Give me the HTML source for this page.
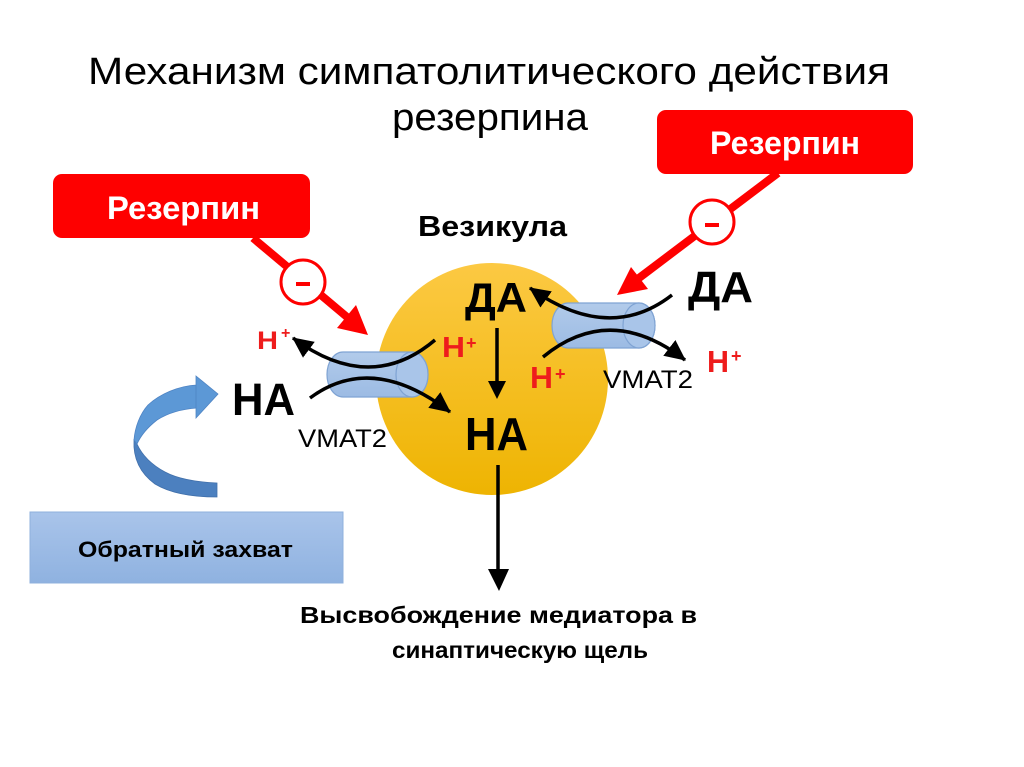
<!DOCTYPE html>
<html>
<head>
<meta charset="utf-8">
<style>
html,body{margin:0;padding:0;background:#fff;}
svg{display:block;}
text{font-family:"Liberation Sans","DejaVu Sans",sans-serif;}
</style>
</head>
<body>
<svg width="1024" height="767" viewBox="0 0 1024 767" xmlns="http://www.w3.org/2000/svg">
<defs>
  <linearGradient id="ves" x1="0" y1="0" x2="0" y2="1">
    <stop offset="0" stop-color="#fcc943"/>
    <stop offset="1" stop-color="#eeb402"/>
  </linearGradient>
  <linearGradient id="box" x1="0" y1="0" x2="0" y2="1">
    <stop offset="0" stop-color="#a9c4ea"/>
    <stop offset="1" stop-color="#8fb2e0"/>
  </linearGradient>
  <linearGradient id="cyl" x1="0" y1="0" x2="0" y2="1">
    <stop offset="0" stop-color="#b2cbea"/>
    <stop offset="1" stop-color="#9cbbe4"/>
  </linearGradient>
  <marker id="ah" markerUnits="userSpaceOnUse" markerWidth="22" markerHeight="20" refX="18" refY="9" orient="auto" viewBox="0 0 20 18">
    <path d="M0,0 L19,9 L0,18 Z" fill="#000"/>
  </marker>
</defs>

<!-- Title -->
<text x="88" y="84" font-size="38" textLength="802" lengthAdjust="spacingAndGlyphs" fill="#000">Механизм симпатолитического действия</text>
<text x="392" y="130" font-size="38" textLength="196" lengthAdjust="spacingAndGlyphs" fill="#000">резерпина</text>

<!-- Red boxes -->
<rect x="53" y="174" width="257" height="64" rx="9" fill="#fe0000"/>
<text x="107" y="219" font-size="32" font-weight="bold" fill="#fff" textLength="153" lengthAdjust="spacingAndGlyphs">Резерпин</text>
<rect x="657" y="110" width="256" height="64" rx="9" fill="#fe0000"/>
<text x="710" y="154" font-size="32" font-weight="bold" fill="#fff" textLength="150" lengthAdjust="spacingAndGlyphs">Резерпин</text>

<!-- Vesicle -->
<circle cx="492" cy="379" r="116" fill="url(#ves)"/>
<text x="418" y="236" font-size="29" font-weight="bold" fill="#000" textLength="149" lengthAdjust="spacingAndGlyphs">Везикула</text>

<!-- Left red inhibitor arrow -->
<line x1="253" y1="238" x2="347" y2="317" stroke="#fe0000" stroke-width="8"/>
<polygon points="368,335 337,328 356,305" fill="#fe0000"/>
<circle cx="303" cy="282" r="22" fill="#fff" stroke="#fe0000" stroke-width="3"/>
<rect x="296" y="282" width="14" height="4" fill="#fe0000"/>

<!-- Right red inhibitor arrow -->
<line x1="778" y1="173" x2="639" y2="278" stroke="#fe0000" stroke-width="8"/>
<polygon points="617,295 631,267 648,289" fill="#fe0000"/>
<circle cx="712" cy="222" r="22" fill="#fff" stroke="#fe0000" stroke-width="3"/>
<rect x="705" y="223" width="14" height="4" fill="#fe0000"/>

<!-- Left cylinder -->
<path d="M343,352 L412,352 A16,22.5 0 0 1 412,397 L343,397 A16,22.5 0 0 1 343,352 Z" fill="url(#cyl)" stroke="#7fa3d3" stroke-width="1.2"/>
<ellipse cx="412" cy="374.5" rx="16" ry="22.5" fill="#a9c5e9" stroke="#7fa3d3" stroke-width="1.2"/>

<!-- Right cylinder -->
<path d="M568,303 L639,303 A16,22.5 0 0 1 639,348 L568,348 A16,22.5 0 0 1 568,303 Z" fill="url(#cyl)" stroke="#7fa3d3" stroke-width="1.2"/>
<ellipse cx="639" cy="325.5" rx="16" ry="22.5" fill="#a9c5e9" stroke="#7fa3d3" stroke-width="1.2"/>

<!-- Left curves -->
<path d="M435,340 Q370,395 293,338" fill="none" stroke="#000" stroke-width="3.5" marker-end="url(#ah)"/>
<path d="M310,398 Q372,352 450,412" fill="none" stroke="#000" stroke-width="3.5" marker-end="url(#ah)"/>

<!-- Right curves -->
<path d="M672,295 Q609,344 530,288" fill="none" stroke="#000" stroke-width="3.5" marker-end="url(#ah)"/>
<path d="M543,357 Q610,302 685,360" fill="none" stroke="#000" stroke-width="3.5" marker-end="url(#ah)"/>

<!-- Inner vertical arrow ДА -> НА -->
<line x1="497" y1="328" x2="497" y2="384" stroke="#000" stroke-width="3.5"/>
<polygon points="488,381 506,381 497,399" fill="#000"/>

<!-- Release arrow -->
<line x1="498" y1="465" x2="498" y2="572" stroke="#000" stroke-width="3.5"/>
<polygon points="488,569 509,569 499,591" fill="#000"/>

<!-- Labels in vesicle -->
<text x="465" y="312" font-size="42" font-weight="bold" fill="#000" textLength="62" lengthAdjust="spacingAndGlyphs">ДА</text>
<text x="465" y="450" font-size="46" font-weight="bold" fill="#000" textLength="63" lengthAdjust="spacingAndGlyphs">НА</text>
<text x="442" y="357" font-size="29" font-weight="bold" fill="#ee1c1c" textLength="23" lengthAdjust="spacingAndGlyphs">H</text>
<text x="466" y="349" font-size="18" font-weight="bold" fill="#ee1c1c">+</text>
<text x="530" y="388" font-size="31" font-weight="bold" fill="#ee1c1c" textLength="23" lengthAdjust="spacingAndGlyphs">H</text>
<text x="555" y="380" font-size="18" font-weight="bold" fill="#ee1c1c">+</text>

<!-- Outside labels left -->
<text x="257" y="349" font-size="25" font-weight="bold" fill="#ee1c1c" textLength="21" lengthAdjust="spacingAndGlyphs">H</text>
<text x="281" y="338" font-size="16" font-weight="bold" fill="#ee1c1c">+</text>
<text x="232" y="415" font-size="45" font-weight="bold" fill="#000" textLength="63" lengthAdjust="spacingAndGlyphs">НА</text>
<text x="298" y="447" font-size="25" fill="#000" textLength="89" lengthAdjust="spacingAndGlyphs">VMAT2</text>

<!-- Outside labels right -->
<text x="688" y="302" font-size="44" font-weight="bold" fill="#000" textLength="65" lengthAdjust="spacingAndGlyphs">ДА</text>
<text x="707" y="372" font-size="31" font-weight="bold" fill="#ee1c1c" textLength="22" lengthAdjust="spacingAndGlyphs">H</text>
<text x="731" y="362" font-size="18" font-weight="bold" fill="#ee1c1c">+</text>
<text x="603" y="388" font-size="25" fill="#000" textLength="90" lengthAdjust="spacingAndGlyphs">VMAT2</text>

<!-- Blue curved arrow -->
<path d="M134,440 C133,458 140,473 155,484 C170,493 190,497 217,497 L217,483 C195,482 178,479 165,472 C152,465 142,455 137,444 Z" fill="#4c80bf" stroke="#4170ab" stroke-width="0.8"/>
<path d="M197,385 C178,386 160,394 148,405 C140,414 135,427 134,440 L137,444 C141,435 148,427 157,420 C168,413 182,409 197,408 Z" fill="#5c98d6" stroke="#4f84c4" stroke-width="0.8"/>
<polygon points="196,376 218,394 196,418" fill="#5c98d6" stroke="#4f84c4" stroke-width="0.8"/>

<!-- Reuptake box -->
<rect x="30" y="512" width="313" height="71" fill="url(#box)" stroke="#8fb0dc" stroke-width="1"/>
<text x="78" y="557" font-size="22" font-weight="bold" fill="#000" textLength="215" lengthAdjust="spacingAndGlyphs">Обратный захват</text>

<!-- Bottom text -->
<text x="300" y="623" font-size="23" font-weight="bold" fill="#000" textLength="397" lengthAdjust="spacingAndGlyphs">Высвобождение медиатора в</text>
<text x="392" y="658" font-size="23" font-weight="bold" fill="#000" textLength="256" lengthAdjust="spacingAndGlyphs">синаптическую щель</text>
</svg>
</body>
</html>
